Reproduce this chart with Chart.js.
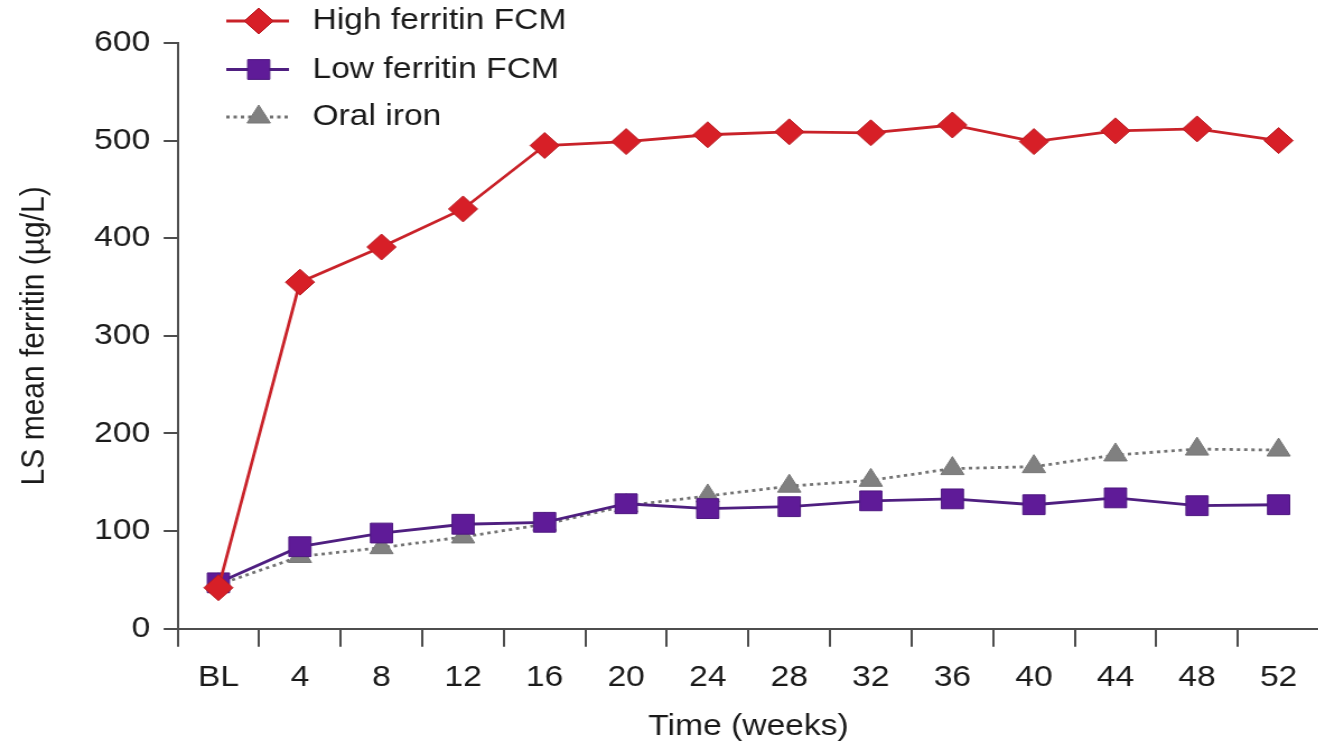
<!DOCTYPE html>
<html>
<head>
<meta charset="utf-8">
<script src="https://cdn.jsdelivr.net/npm/chart.js@4/dist/chart.umd.min.js"></script>
<style>
  html, body { margin: 0; padding: 0; background: #fff; overflow: hidden; width: 1318px; height: 747px; }
  #wrap { position: absolute; left: 0; top: 0; }
  /* the figure is laid out slightly wide: stretch the drawing horizontally */
  #chart { display: block; transform: scaleX(1.12); transform-origin: 0 0; }
</style>
</head>
<body>
<div id="wrap"><canvas id="chart" width="1193" height="747"></canvas></div>
<script>
// Time points (weeks)
const timeLabels = ['BL', '4', '8', '12', '16', '20', '24', '28', '32', '36', '40', '44', '48', '52'];

// LS mean ferritin (µg/L) per group
const highFerritinFCM = [42, 355, 391, 430, 495, 499, 506, 509, 508, 516, 499, 510, 512, 500];
const lowFerritinFCM  = [47, 84, 98, 107, 109, 128, 123, 125, 131, 133, 127, 134, 126, 127];
const oralIron        = [45, 74, 83, 94, 107, 126, 136, 146, 152, 164, 166, 178, 184, 183];

// y-axis range
const yMin = 0, yMax = 600, yStep = 100;

const FONT = '"Liberation Sans", Arial, Helvetica, sans-serif';
const TEXT = '#1a1a1a';
const AXIS = '#4d4d4d';

Chart.defaults.font.family = FONT;
Chart.defaults.color = TEXT;

// Legend drawn in the upper-left corner of the plot
const cornerLegend = {
  id: 'cornerLegend',
  afterDraw(chart) {
    const ctx = chart.ctx;
    const rows = [21, 69.5, 117];
    const lineX0 = 202, lineX1 = 258, markX = 231, textX = 279;
    chart.data.datasets.forEach((ds, i) => {
      const y = rows[i];
      ctx.save();
      ctx.strokeStyle = ds.borderColor;
      ctx.lineWidth = ds.borderWidth;
      ctx.setLineDash(ds.borderDash || []);
      ctx.beginPath();
      ctx.moveTo(lineX0, y);
      ctx.lineTo(lineX1, y);
      ctx.stroke();
      ctx.setLineDash([]);
      ctx.fillStyle = ds.pointBackgroundColor;
      ctx.strokeStyle = ds.pointBorderColor;
      ctx.lineWidth = ds.pointBorderWidth;
      Chart.helpers.drawPoint(ctx, {
        pointStyle: ds.pointStyle,
        radius: ds.pointRadius,
        borderWidth: ds.pointBorderWidth,
        rotation: 0
      }, markX, y);
      ctx.fillStyle = TEXT;
      ctx.font = '30px ' + FONT;
      ctx.textBaseline = 'middle';
      ctx.textAlign = 'left';
      ctx.fillText(ds.label, textX, y);
      ctx.restore();
    });
  }
};

new Chart(document.getElementById('chart'), {
  type: 'line',
  data: {
    labels: timeLabels,
    datasets: [
      {
        label: 'High ferritin FCM',
        data: highFerritinFCM,
        borderColor: '#c92229',
        borderWidth: 2.8,
        pointStyle: 'rectRot',
        pointRadius: 13,
        pointHoverRadius: 13,
        pointBackgroundColor: '#d71f27',
        pointBorderColor: '#b81d24',
        pointBorderWidth: 1,
        tension: 0
      },
      {
        label: 'Low ferritin FCM',
        data: lowFerritinFCM,
        borderColor: '#4f1f80',
        borderWidth: 2.8,
        pointStyle: 'rect',
        pointRadius: 14,
        pointHoverRadius: 14,
        pointBackgroundColor: '#5f1b98',
        pointBorderColor: '#4e1880',
        pointBorderWidth: 1,
        tension: 0
      },
      {
        label: 'Oral iron',
        data: oralIron,
        borderColor: '#737373',
        borderWidth: 2.8,
        borderDash: [3, 3.5],
        pointStyle: 'triangle',
        pointRadius: 12,
        pointHoverRadius: 12,
        pointBackgroundColor: '#808080',
        pointBorderColor: '#777777',
        pointBorderWidth: 1,
        tension: 0
      }
    ]
  },
  options: {
    responsive: false,
    animation: false,
    devicePixelRatio: 1,
    layout: { padding: { top: 43, right: 0, bottom: 0, left: 0 } },
    plugins: {
      legend: { display: false },
      tooltip: { enabled: false }
    },
    scales: {
      x: {
        type: 'category',
        offset: true,
        grid: {
          offset: true,
          drawOnChartArea: false,
          drawTicks: true,
          tickLength: 18,
          color: AXIS,
          lineWidth: 2
        },
        border: { display: true, color: AXIS, width: 2 },
        ticks: { font: { size: 30 }, color: TEXT, padding: 13, maxRotation: 0, autoSkip: false },
        title: {
          display: true,
          text: 'Time (weeks)',
          font: { size: 30 },
          color: TEXT,
          padding: { top: 0, bottom: 2 }
        },
        afterFit(scale) { scale.height = 118.3; }
      },
      y: {
        min: yMin,
        max: yMax,
        ticks: { stepSize: yStep, font: { size: 30 }, color: TEXT, padding: 12 },
        grid: {
          drawOnChartArea: false,
          drawTicks: true,
          tickLength: 12.5,
          color: AXIS,
          lineWidth: 2
        },
        border: { display: true, color: AXIS, width: 2 },
        title: {
          display: true,
          text: 'LS mean ferritin (µg/L)',
          font: { size: 30 },
          color: TEXT,
          padding: { top: 13, bottom: 0 }
        },
        afterFit(scale) { scale.width = 158.6; }
      }
    }
  },
  plugins: [cornerLegend]
});
</script>
</body>
</html>
